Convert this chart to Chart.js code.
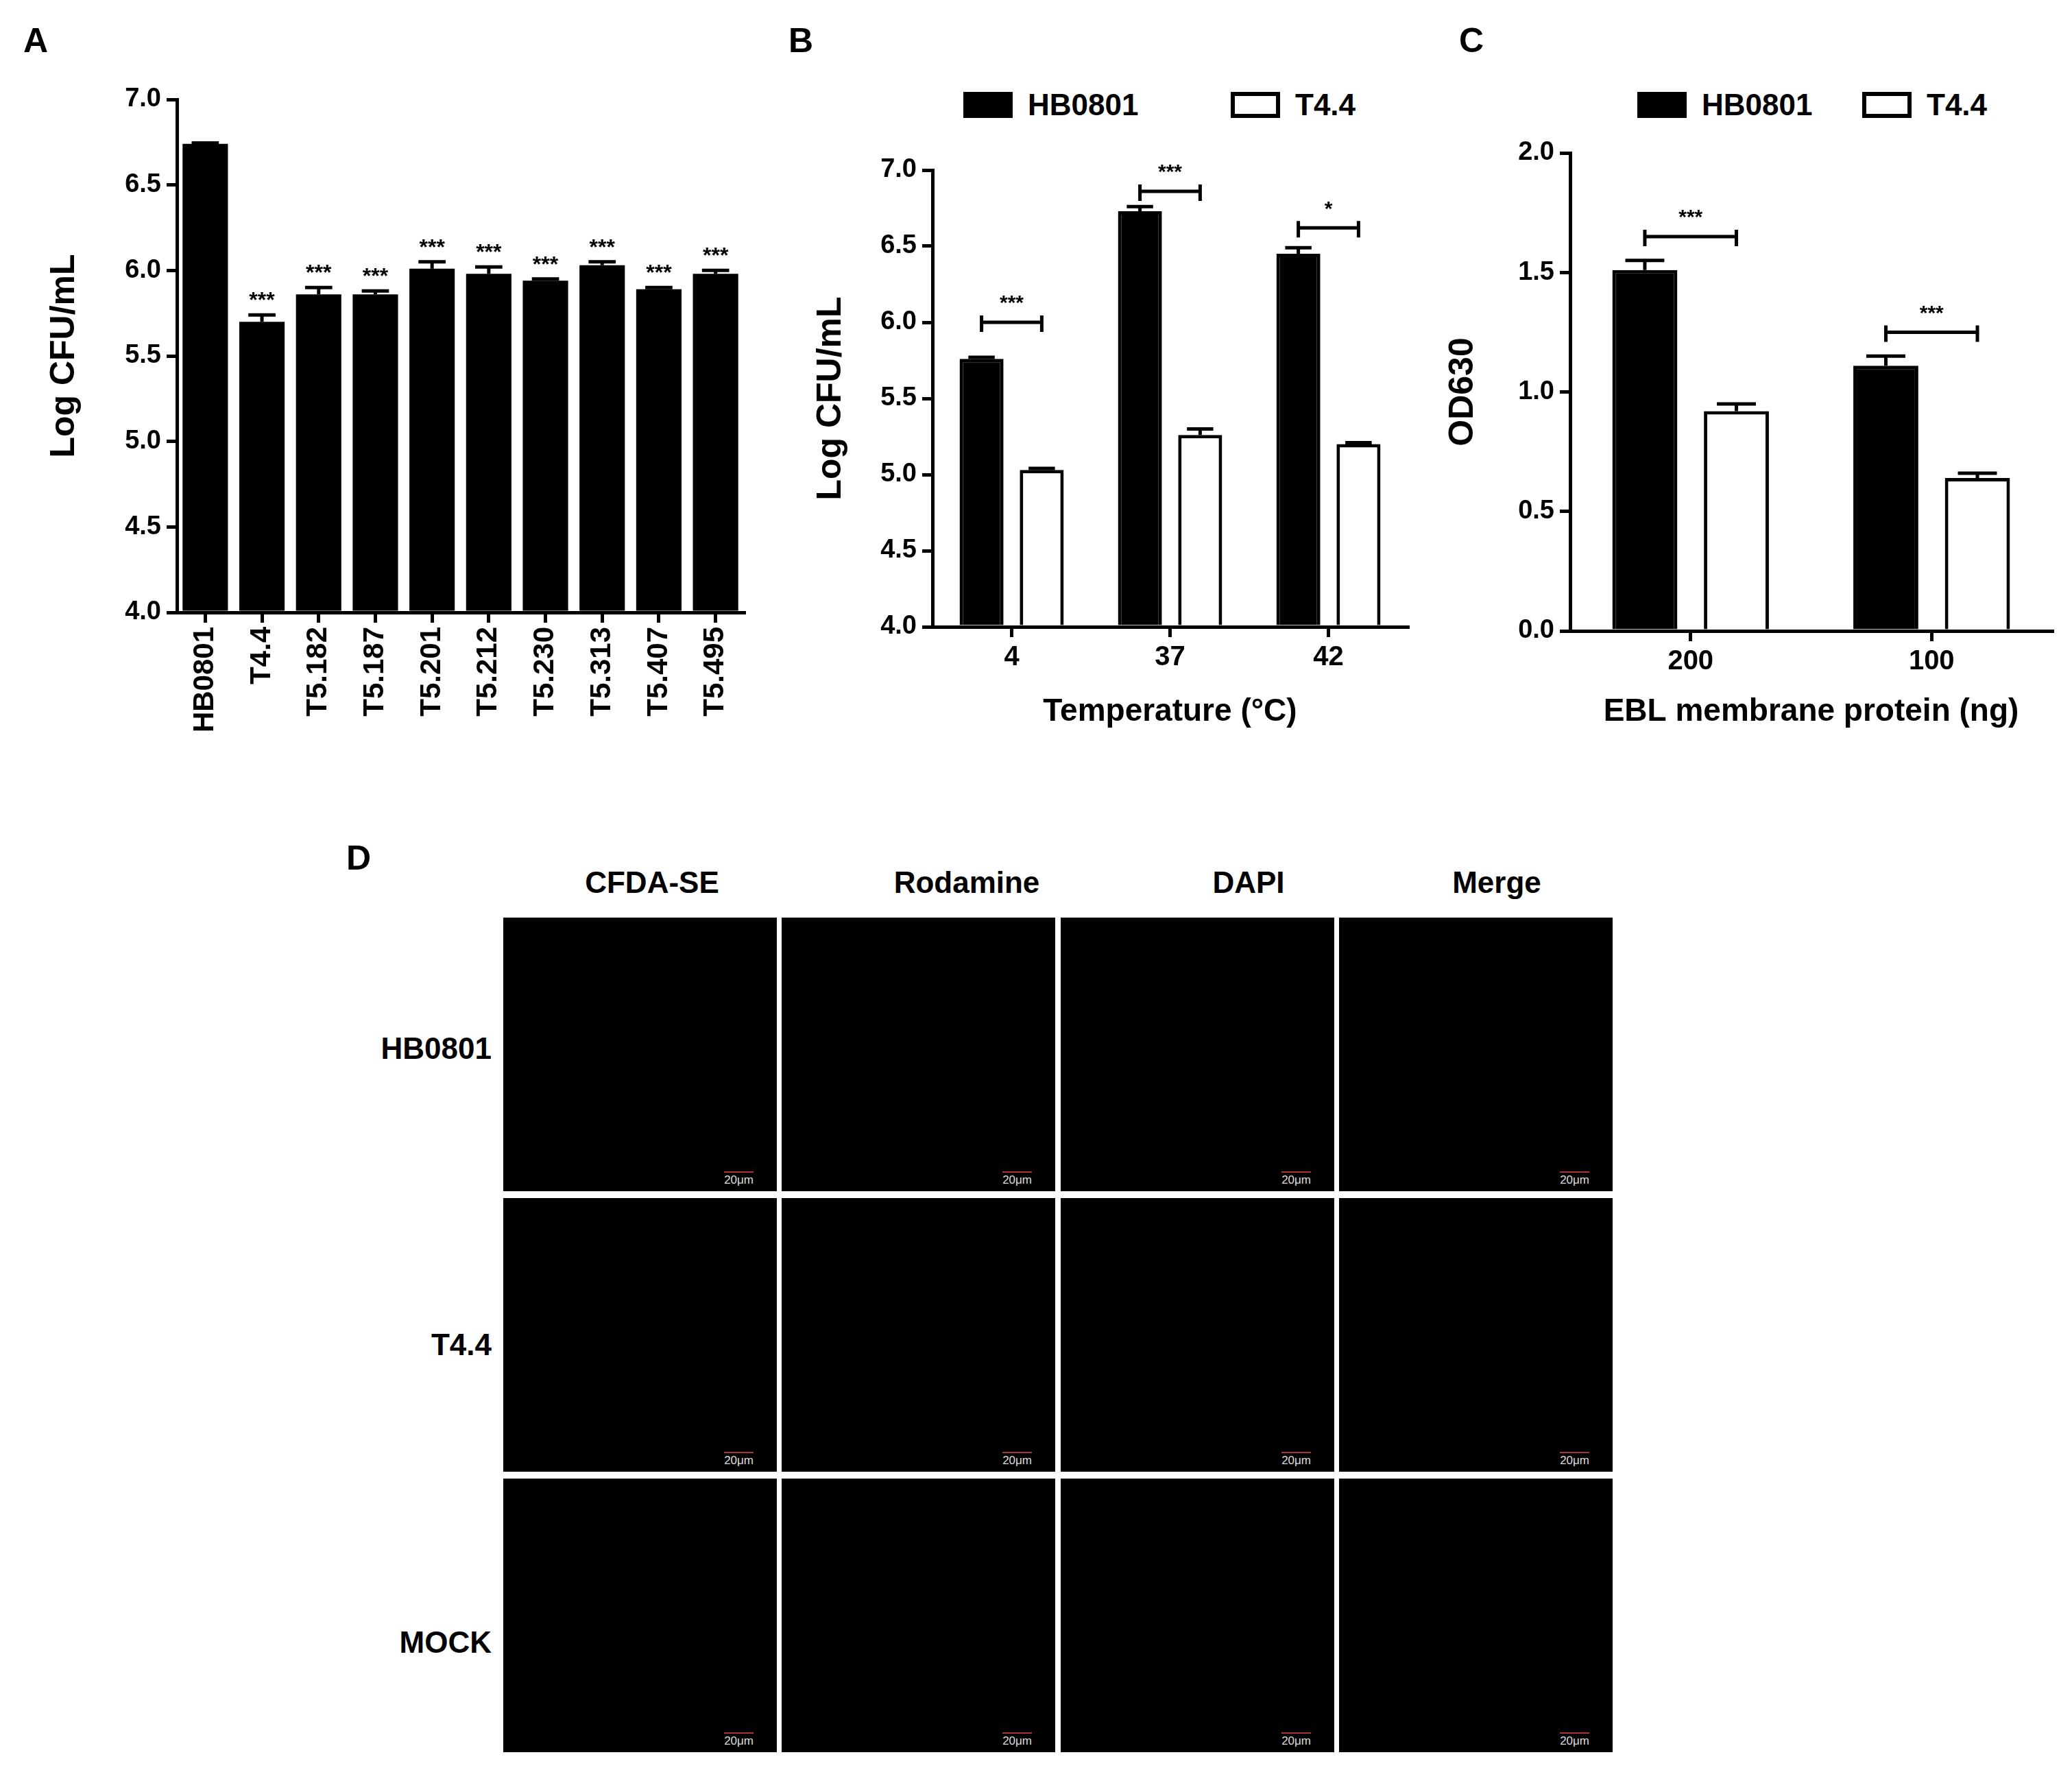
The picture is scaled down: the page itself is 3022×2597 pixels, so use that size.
<!DOCTYPE html>
<html><head><meta charset="utf-8">
<script src="https://cdn.jsdelivr.net/npm/chart.js@4/dist/chart.umd.min.js"></script>
<style>
body{margin:0;background:#fff;width:3022px;height:2597px;position:relative;overflow:hidden;font-family:"Liberation Sans",Arial,sans-serif;font-weight:bold}
.abs{position:absolute}
.lbl{position:absolute;font-size:50px;font-weight:bold}
.tile{position:absolute;width:399px;height:399px;background:#000}
.sb{position:absolute;right:34px;bottom:6px;color:#ddd;font-size:17px;font-weight:normal;border-top:2px solid #a33;padding-top:1px}
.ct{position:absolute;font-size:44px;text-align:center;width:400px}
.rl{position:absolute;font-size:44px;text-align:right;width:400px}
.leg{position:absolute;font-size:44px;display:flex;align-items:center}
.sw{display:inline-block;width:72px;height:38px;margin-right:22px;box-sizing:border-box}
</style></head><body>
<div class="lbl" style="left:34px;top:30px">A</div>
<div class="lbl" style="left:1150px;top:30px">B</div>
<div class="lbl" style="left:2128px;top:30px">C</div>
<div class="lbl" style="left:505px;top:1222px">D</div>

<div class="leg" style="left:1405px;top:128px"><span class="sw" style="background:#000"></span>HB0801</div>
<div class="leg" style="left:1795px;top:128px"><span class="sw" style="border:6px solid #000"></span>T4.4</div>
<div class="leg" style="left:2388px;top:128px"><span class="sw" style="background:#000"></span>HB0801</div>
<div class="leg" style="left:2716px;top:128px"><span class="sw" style="border:6px solid #000"></span>T4.4</div>

<div class="abs" style="left:60px;top:100px;width:1060px;height:1050px"><canvas id="cA"></canvas></div>
<div class="abs" style="left:1178px;top:200px;width:912px;height:870px"><canvas id="cB"></canvas></div>
<div class="abs" style="left:2100px;top:180px;width:922px;height:890px"><canvas id="cC"></canvas></div>
<div id="D"></div>
<script>
// ---- data ----
const catsA = ["HB0801","T4.4","T5.182","T5.187","T5.201","T5.212","T5.230","T5.313","T5.407","T5.495"];
const valsA = [6.74,5.70,5.86,5.86,6.01,5.98,5.94,6.03,5.89,5.98];
const errsA = [0.005,0.04,0.04,0.02,0.04,0.04,0.01,0.02,0.01,0.02];
const starsA = ["","***","***","***","***","***","***","***","***","***"];

const catsB = ["4","37","42"];
const hbB = [5.76,6.73,6.45];
const hbErrB = [0.01,0.03,0.04];
const t44B = [5.03,5.26,5.20];
const t44ErrB = [0.01,0.04,0.01];
const bracketB = [6.00,6.86,6.62];
const sigB = ["***","***","*"];

const catsC = ["200","100"];
const hbC = [1.51,1.11];
const hbErrC = [0.04,0.04];
const t44C = [0.92,0.64];
const t44ErrC = [0.03,0.02];
const bracketC = [1.65,1.25];
const sigC = ["***","***"];

const colTitles = ["CFDA-SE","Rodamine","DAPI","Merge"];
const rowTitles = ["HB0801","T4.4","MOCK"];

const FONT = "'Liberation Sans', Arial, sans-serif";
const annot = {
  id:'annot',
  afterDatasetsDraw(chart, args, opts){
    const ctx = chart.ctx, ys = chart.scales.y;
    ctx.save(); ctx.strokeStyle='#000'; ctx.lineWidth=5; ctx.fillStyle='#000';
    chart.data.datasets.forEach((ds,di)=>{
      const meta = chart.getDatasetMeta(di);
      meta.data.forEach((el,i)=>{
        const v = ds.data[i], e = ds.errs[i];
        const yt = ys.getPixelForValue(v+e), yb = ys.getPixelForValue(v);
        const hw = el.width*0.3;
        ctx.beginPath(); ctx.moveTo(el.x,yb); ctx.lineTo(el.x,yt);
        ctx.moveTo(el.x-hw,yt); ctx.lineTo(el.x+hw,yt); ctx.stroke();
        if (ds.stars && ds.stars[i]) {
          ctx.font = "bold 32px "+FONT; ctx.textAlign='center'; ctx.textBaseline='bottom';
          ctx.fillText(ds.stars[i], el.x, yt-4);
        }
      });
    });
    if (opts.br) {
      const m0 = chart.getDatasetMeta(0), m1 = chart.getDatasetMeta(1);
      opts.br.forEach((b,i)=>{
        const x0 = m0.data[i].x, x1 = m1.data[i].x, y = ys.getPixelForValue(b);
        ctx.lineWidth=5; ctx.beginPath();
        ctx.moveTo(x0,y+14); ctx.lineTo(x0,y-10); ctx.moveTo(x0,y); ctx.lineTo(x1,y);
        ctx.moveTo(x1,y+14); ctx.lineTo(x1,y-10); ctx.stroke();
        ctx.font = "bold 30px "+FONT; ctx.textAlign='center'; ctx.textBaseline='bottom';
        ctx.fillText(opts.sig[i], (x0+x1)/2, y-12);
      });
    }
    ctx.restore();
  }
};
Chart.register(annot);
Chart.defaults.font.family = FONT;
Chart.defaults.color = '#000';

function axes(min,max,step,yw,xh,title,xtitle,rot,tickFont){
  return {
    y:{min,max,ticks:{stepSize:step,callback:v=>v.toFixed(1),font:{size:38,weight:'bold'},padding:8},
       grid:{drawOnChartArea:false,color:'#000',lineWidth:5,tickLength:15},
       border:{color:'#000',width:5},
       title:{display:true,text:title,font:{size:50,weight:'bold'},padding:4},
       afterFit(s){s.width=yw;}},
    x:{ticks:{font:{size:tickFont,weight:'bold'},maxRotation:rot,minRotation:rot,padding:6},
       grid:{display:true,drawOnChartArea:false,color:'#000',lineWidth:5,tickLength:15,offset:false},
       border:{color:'#000',width:5},
       title:{display:!!xtitle,text:xtitle,font:{size:46,weight:'bold'},padding:{top:8}},
       afterFit(s){s.height=xh;}}
  };
}
const base = {responsive:true,maintainAspectRatio:false,animation:false,devicePixelRatio:1,
  plugins:{legend:{display:false},tooltip:{enabled:false}}};

new Chart(document.getElementById('cA'),{type:'bar',
  data:{labels:catsA,datasets:[{data:valsA,errs:errsA,stars:starsA,backgroundColor:'#000',borderColor:'#000',borderWidth:0,base:4}]},
  options:{...base,layout:{padding:{top:45,right:35,left:0,bottom:0}},
    datasets:{bar:{categoryPercentage:0.8,barPercentage:1}},
    scales:axes(4,7,0.5,198,257,'Log CFU/mL','',90,42),
    plugins:{...base.plugins,annot:{}}}});

new Chart(document.getElementById('cB'),{type:'bar',
  data:{labels:catsB,datasets:[
    {data:hbB,errs:hbErrB,backgroundColor:'#000',borderColor:'#000',borderWidth:5,base:4},
    {data:t44B,errs:t44ErrB,backgroundColor:'#fff',borderColor:'#000',borderWidth:5,base:4}]},
  options:{...base,layout:{padding:{top:48,right:37,left:0,bottom:0}},
    datasets:{bar:{categoryPercentage:0.76,barPercentage:0.73}},
    scales:axes(4,7,0.5,182,156,'Log CFU/mL','Temperature (°C)',0,40),
    plugins:{...base.plugins,annot:{br:bracketB,sig:sigB}}}});

new Chart(document.getElementById('cC'),{type:'bar',
  data:{labels:catsC,datasets:[
    {data:hbC,errs:hbErrC,backgroundColor:'#000',borderColor:'#000',borderWidth:5},
    {data:t44C,errs:t44ErrC,backgroundColor:'#fff',borderColor:'#000',borderWidth:5}]},
  options:{...base,layout:{padding:{top:43,right:29,left:0,bottom:0}},
    datasets:{bar:{categoryPercentage:0.76,barPercentage:0.71}},
    scales:axes(0,2,0.5,190,150,'OD630','EBL membrane protein (ng)',0,40),
    plugins:{...base.plugins,annot:{br:bracketC,sig:sigC}}}});

// ---- panel D layout ----
const D = document.getElementById('D');
const tx = [734,1140,1547,1953], ty = [1338,1747,2156];
const cx = [951,1410,1821,2183], ry = [1530,1962,2396];
colTitles.forEach((t,c)=>{const d=document.createElement('div');d.className='ct';d.style.left=(cx[c]-200)+'px';d.style.top='1262px';d.textContent=t;D.appendChild(d);});
rowTitles.forEach((t,r)=>{const d=document.createElement('div');d.className='rl';d.style.left='317px';d.style.top=(ry[r]-26)+'px';d.textContent=t;D.appendChild(d);
  tx.forEach(x=>{const s=document.createElement('div');s.className='tile';s.style.left=x+'px';s.style.top=ty[r]+'px';
    const b=document.createElement('div');b.className='sb';b.textContent='20μm';s.appendChild(b);D.appendChild(s);});});
</script>
</body></html>
